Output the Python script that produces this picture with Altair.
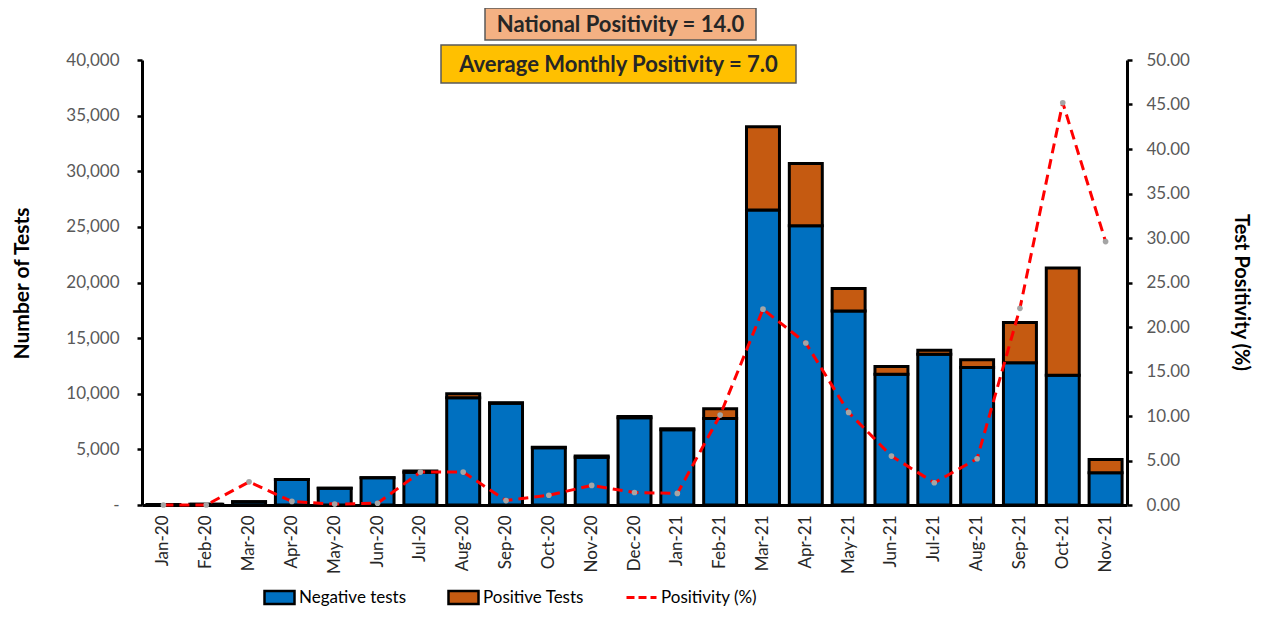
import altair as alt
import pandas as pd

months = ["Jan-20", "Feb-20", "Mar-20", "Apr-20", "May-20", "Jun-20", "Jul-20", "Aug-20",
          "Sep-20", "Oct-20", "Nov-20", "Dec-20", "Jan-21", "Feb-21", "Mar-21", "Apr-21",
          "May-21", "Jun-21", "Jul-21", "Aug-21", "Sep-21", "Oct-21", "Nov-21"]
negative = [50, 60, 290, 2290, 1500, 2450, 2940, 9630, 9150, 5140, 4300, 7840, 6760, 7780,
            26520, 25110, 17430, 11760, 13550, 12370, 12780, 11670, 2890]
positive = [0, 0, 8, 10, 2, 5, 110, 370, 46, 57, 97, 111, 90, 870,
            7480, 5590, 2020, 690, 350, 680, 3620, 9630, 1210]
positivity = [0.0, 0.0, 2.6, 0.4, 0.1, 0.2, 3.7, 3.7, 0.5, 1.1, 2.2, 1.4, 1.3, 10.1,
              22.0, 18.2, 10.4, 5.5, 2.5, 5.2, 22.1, 45.2, 29.6]
types = ["Negative tests", "Positive Tests"]
line_series = "Positivity (%)"
box_texts = ["National Positivity = 14.0", "Average Monthly Positivity = 7.0"]

FONT = "Lato"

rows = []
for m, n, p in zip(months, negative, positive):
    rows.append({"Month": m, "Type": types[0], "Tests": n, "ord": 0})
    rows.append({"Month": m, "Type": types[1], "Tests": p, "ord": 1})
bars_df = pd.DataFrame(rows)
line_df = pd.DataFrame({"Month": months, "Positivity": positivity,
                        "Series": [line_series] * len(months)})

xscale = alt.Scale(domain=months, paddingInner=0.23, paddingOuter=0.115)
xaxis = alt.Axis(title=None, labelAngle=270, labelFont=FONT, labelFontSize=17,
                 labelColor="#262626", ticks=False, domainColor="black", domainWidth=3,
                 labelPadding=10, labelAlign="right", labelBaseline="middle")

bars = alt.Chart(bars_df).mark_bar(stroke="black", strokeWidth=3).encode(
    x=alt.X("Month:N", scale=xscale, axis=xaxis, sort=months),
    y=alt.Y("Tests:Q", stack="zero", scale=alt.Scale(domain=[0, 40000], nice=False),
            axis=alt.Axis(title="Number of Tests", values=list(range(0, 40001, 5000)),
                          format=",.0f", labelExpr="datum.value == 0 ? '-' : datum.label",
                          grid=False, domainColor="black", domainWidth=3,
                          tickColor="black", tickWidth=2.5, tickSize=5,
                          labelFont=FONT, labelFontSize=17, labelColor="#595959",
                          labelPadding=18, titleFont=FONT, titleFontSize=21,
                          titleFontWeight="bold", titleColor="black",
                          titleX=-120, titleY=223, titleAngle=270,
                          titleAlign="center", titleBaseline="middle")),
    color=alt.Color("Type:N", scale=alt.Scale(domain=types, range=["#0070C0", "#C55A11"]),
                    legend=alt.Legend(orient="none", legendX=121, legendY=521,
                                      direction="horizontal", title=None,
                                      symbolType="M-1,-0.43H1V0.43H-1Z", symbolSize=900,
                                      symbolStrokeColor="black", symbolStrokeWidth=2.5,
                                      symbolOpacity=1,
                                      labelFont=FONT, labelFontSize=17, labelColor="black",
                                      labelOffset=3, columnPadding=36)),
    order=alt.Order("ord:Q"),
)

yright = alt.Y("Positivity:Q", scale=alt.Scale(domain=[0, 50], nice=False),
               axis=alt.Axis(title="Test Positivity (%)", orient="right",
                             values=list(range(0, 51, 5)), format=".2f", grid=False,
                             domainColor="black", domainWidth=3, tickColor="black",
                             tickWidth=2.5, tickSize=5, labelFont=FONT, labelFontSize=17,
                             labelColor="#595959", labelPadding=14, titleFont=FONT,
                             titleFontSize=20, titleFontWeight="bold", titleColor="black",
                             titleX=113, titleY=232, titleAngle=90, titleAlign="center",
                             titleBaseline="middle"))

line = alt.Chart(line_df).mark_line(strokeWidth=3, strokeDash=[10, 6]).encode(
    x=alt.X("Month:N", scale=xscale, sort=months),
    y=yright,
    stroke=alt.Stroke("Series:N",
                      scale=alt.Scale(domain=[line_series], range=["#FF0000"]),
                      legend=alt.Legend(orient="none", legendX=483, legendY=521,
                                        title=None, symbolType="stroke",
                                        symbolSize=900, symbolStrokeWidth=3,
                                        symbolDash=[8, 4], labelFont=FONT,
                                        labelFontSize=17, labelColor="black",
                                        labelOffset=3)),
)
points = alt.Chart(line_df).mark_point(filled=True, color="#A5A5A5", size=32, opacity=1).encode(
    x=alt.X("Month:N", scale=xscale, sort=months),
    y=yright,
)
right = alt.layer(line, points)

one = alt.Data(values=[{"a": 1}])
box1 = alt.Chart(one).mark_rect(fill="#F4B183", stroke="#595959", strokeWidth=1.5).encode(
    x=alt.value(343), x2=alt.value(614), y=alt.value(-52), y2=alt.value(-20))
txt1 = alt.Chart(one).mark_text(font=FONT, fontSize=22, fontWeight="bold", color="#262626",
                                align="center", baseline="middle").encode(
    x=alt.value(478.5), y=alt.value(-35), text=alt.value(box_texts[0]))
box2 = alt.Chart(one).mark_rect(fill="#FFC000", stroke="#595959", strokeWidth=1.5).encode(
    x=alt.value(299), x2=alt.value(654), y=alt.value(-15), y2=alt.value(23))
txt2 = alt.Chart(one).mark_text(font=FONT, fontSize=22, fontWeight="bold", color="#262626",
                                align="center", baseline="middle").encode(
    x=alt.value(476.5), y=alt.value(5), text=alt.value(box_texts[1]))

chart = alt.layer(bars, right, box1, txt1, box2, txt2).resolve_scale(
    y="independent", color="independent", stroke="independent"
).properties(
    width=985, height=445,
    padding={"left": 134, "top": 52, "right": 127, "bottom": 104},
    autosize=alt.AutoSizeParams(type="none"),
    background="white",
).configure_view(stroke=None)

chart.save("out.html", embed_options={"renderer": "svg", "actions": False})
